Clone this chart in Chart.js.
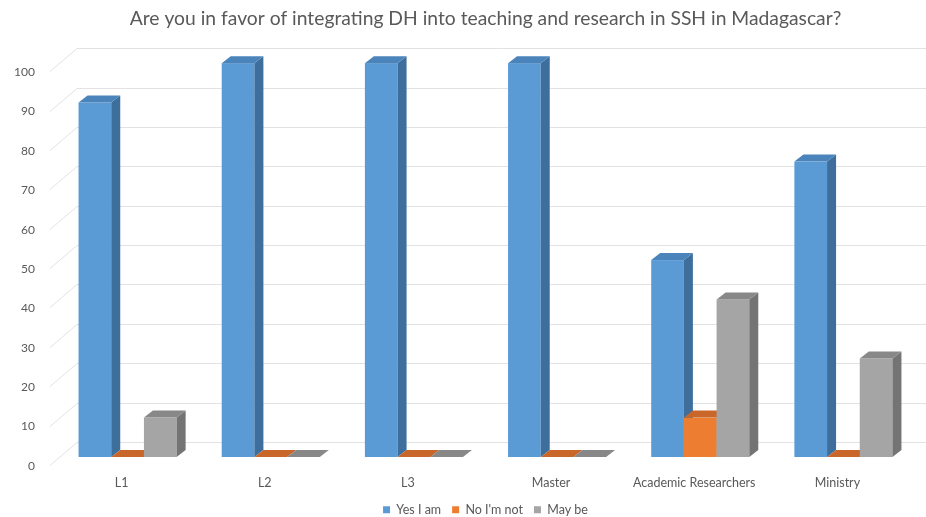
<!DOCTYPE html>
<html>
<head>
<meta charset="utf-8">
<script src="https://cdn.jsdelivr.net/npm/chart.js@4/dist/chart.umd.min.js"></script>
<style>
  html, body { margin: 0; padding: 0; background: #ffffff; }
  #wrap { width: 926px; height: 517px; }
</style>
</head>
<body>
<div id="wrap"><canvas id="c" width="926" height="517"></canvas></div>
<script>
// Survey answers by respondent group (percent)
const categories = ['L1', 'L2', 'L3', 'Master', 'Academic Researchers', 'Ministry'];
const yesIAm   = [90, 100, 100, 100, 50, 75];
const noImNot  = [0, 0, 0, 0, 10, 0];
const mayBe    = [10, 0, 0, 0, 40, 25];
const yTicks   = [0, 10, 20, 30, 40, 50, 60, 70, 80, 90, 100];

// Face colours for the extruded columns: front, side, top
const shades = [
  { front: '#5b9bd5', side: '#3d6e9c', top: '#4a84bb' },
  { front: '#ed7d31', side: '#b65c20', top: '#c9662a' },
  { front: '#a5a5a5', side: '#747474', top: '#888888' }
];
const DEPTH_X = 9, DEPTH_Y = -7;   // column extrusion
const WALL_X = 21, WALL_Y = -15;   // back wall offset from column fronts
const FLOOR_X = -6, FLOOR_Y = 8;   // front floor edge offset

const FONT = 'Lato, "Open Sans", sans-serif';

const extrude3d = {
  id: 'extrude3d',
  beforeDatasetsDraw(chart) {
    const { ctx, chartArea, scales: { y } } = chart;
    ctx.save();
    ctx.strokeStyle = '#e2e2e2';
    ctx.lineWidth = 1;
    yTicks.forEach(v => {
      const py = Math.round(y.getPixelForValue(v)) + 0.5;
      ctx.beginPath();
      ctx.moveTo(chartArea.left + FLOOR_X, py + FLOOR_Y);
      ctx.lineTo(chartArea.left + WALL_X, py + WALL_Y);
      ctx.lineTo(chart.width, py + WALL_Y);
      ctx.stroke();
    });
    ctx.restore();
  },
  beforeDatasetDraw() {
    return false; // columns are painted by afterDatasetsDraw
  },
  afterDatasetsDraw(chart) {
    const { ctx } = chart;
    const metas = chart.data.datasets.map((d, i) => chart.getDatasetMeta(i));
    ctx.save();
    for (let c = 0; c < categories.length; c++) {
      metas.forEach((meta, di) => {
        const el = meta.data[c];
        const col = shades[di];
        const l = el.x - el.width / 2, r = el.x + el.width / 2;
        const top = el.y, base = el.base;
        if (base - top > 0.5) {
          ctx.fillStyle = col.front;
          ctx.fillRect(l, top, r - l, base - top);
          ctx.fillStyle = col.side;
          ctx.beginPath();
          ctx.moveTo(r, top);
          ctx.lineTo(r + DEPTH_X, top + DEPTH_Y);
          ctx.lineTo(r + DEPTH_X, base + DEPTH_Y);
          ctx.lineTo(r, base);
          ctx.closePath();
          ctx.fill();
        }
        ctx.fillStyle = col.top;
        ctx.beginPath();
        ctx.moveTo(l, top);
        ctx.lineTo(l + DEPTH_X, top + DEPTH_Y);
        ctx.lineTo(r + DEPTH_X, top + DEPTH_Y);
        ctx.lineTo(r, top);
        ctx.closePath();
        ctx.fill();
      });
    }
    ctx.restore();
  }
};

new Chart(document.getElementById('c'), {
  type: 'bar',
  data: {
    labels: categories,
    datasets: [
      { label: 'Yes I am', data: yesIAm, backgroundColor: shades[0].front },
      { label: "No I'm not", data: noImNot, backgroundColor: shades[1].front },
      { label: 'May be', data: mayBe, backgroundColor: shades[2].front }
    ]
  },
  options: {
    responsive: false,
    animation: false,
    devicePixelRatio: 1,
    layout: { padding: { left: 0, right: 11, top: 0, bottom: -9 } },
    datasets: { bar: { categoryPercentage: 0.685, barPercentage: 1 } },
    plugins: {
      title: {
        display: true,
        fullSize: false,
        text: 'Are you in favor of integrating DH into teaching and research in SSH in Madagascar?',
        color: '#595959',
        font: { family: FONT, size: 19.3, weight: 'normal' },
        padding: { top: 7, bottom: 33 }
      },
      legend: {
        display: true,
        fullSize: false,
        position: 'bottom',
        labels: {
          color: '#595959',
          font: { family: FONT, size: 12.5 },
          boxWidth: 7,
          boxHeight: 7,
          padding: 11
        }
      },
      tooltip: { enabled: false }
    },
    scales: {
      x: {
        grid: { display: false, drawTicks: false },
        border: { display: false },
        ticks: {
          color: '#595959',
          font: { family: FONT, size: 12.5 },
          padding: 18,
          labelOffset: -6
        },
        afterFit(scale) { scale.height = 35.5; }
      },
      y: {
        min: 0,
        max: 100,
        afterBuildTicks(scale) { scale.ticks = yTicks.map(v => ({ value: v })); },
        grid: { display: false, drawTicks: false },
        border: { display: false },
        ticks: {
          color: '#595959',
          font: { family: FONT, size: 12 },
          padding: 21,
          labelOffset: 9
        },
        afterFit(scale) { scale.width = 56; }
      }
    }
  },
  plugins: [extrude3d]
});
</script>
</body>
</html>
